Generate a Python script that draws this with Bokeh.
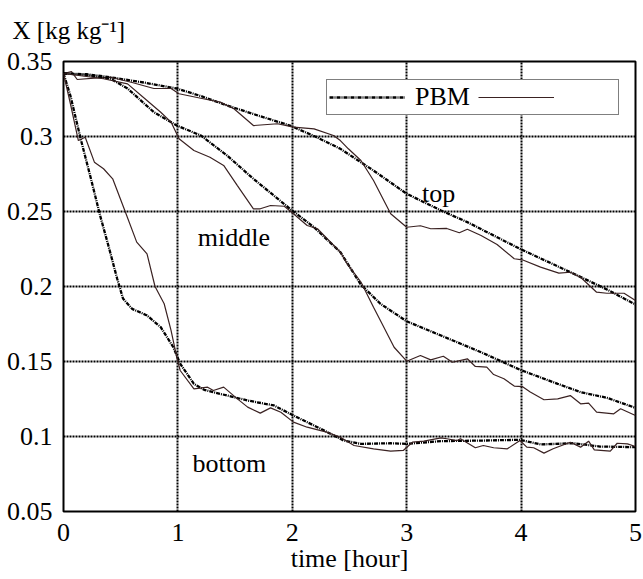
from bokeh.plotting import figure
from bokeh.models import (Label, Legend, LegendItem, FixedTicker,
                          NumeralTickFormatter, Range1d)
from bokeh.embed import file_html
from bokeh.resources import INLINE

# ---------------- data ----------------
x_ticks = [0, 1, 2, 3, 4, 5]
y_ticks = [0.05, 0.1, 0.15, 0.2, 0.25, 0.3, 0.35]

top_pbm_t = [0, 0.2, 0.41, 0.7, 0.99, 1.2, 1.43, 1.7, 1.98, 2.2, 2.42, 2.71,
             3.0, 3.3, 3.53, 3.99, 4.46, 4.75, 5.0]
top_pbm_x = [0.342, 0.3415, 0.3395, 0.336, 0.332, 0.327, 0.3207, 0.314, 0.3073,
             0.300, 0.2918, 0.2773, 0.2618, 0.2507, 0.2429, 0.2251, 0.2085,
             0.198, 0.188]

top_exp_t = [0, 0.07, 0.12, 0.27, 0.41, 0.6, 0.79, 0.94, 1.01, 1.2, 1.37, 1.49,
             1.66, 1.87, 2.01, 2.19, 2.36, 2.42, 2.49, 2.60, 2.71, 2.86, 3.0,
             3.12, 3.21, 3.35, 3.46, 3.53, 3.65, 3.79, 3.94, 4.01, 4.17, 4.33,
             4.43, 4.52, 4.66, 4.75, 4.90, 5.0]
top_exp_x = [0.342, 0.3433, 0.338, 0.3389, 0.3395, 0.336, 0.332, 0.332, 0.3285,
             0.3255, 0.3229, 0.3185, 0.3073, 0.3085, 0.3062, 0.3051, 0.3007,
             0.2973, 0.2918, 0.284, 0.2707, 0.2485, 0.2395, 0.2405, 0.2385,
             0.2387, 0.2358, 0.2382, 0.234, 0.228, 0.2185, 0.2178, 0.2129,
             0.2089, 0.2095, 0.2062, 0.1962, 0.1955, 0.1955, 0.1907]

mid_pbm_t = [0, 0.2, 0.41, 0.56, 0.79, 0.99, 1.2, 1.43, 1.66, 1.98, 2.19, 2.42,
             2.60, 2.77, 3.0, 3.3, 3.65, 3.99, 4.32, 4.52, 4.75, 5.0]
mid_pbm_x = [0.342, 0.341, 0.3385, 0.332, 0.3162, 0.3073, 0.3007, 0.2873,
             0.2718, 0.2518, 0.2395, 0.2229, 0.2012, 0.1885, 0.1768, 0.1673,
             0.1562, 0.1445, 0.1351, 0.1296, 0.1258, 0.1191]

mid_exp_t = [0, 0.15, 0.35, 0.56, 0.73, 0.85, 0.94, 1.01, 1.14, 1.28, 1.40,
             1.52, 1.66, 1.72, 1.81, 1.93, 2.01, 2.13, 2.22, 2.42, 2.48, 2.60,
             2.71, 2.77, 2.89, 3.0, 3.12, 3.21, 3.32, 3.40, 3.53, 3.60, 3.70,
             3.76, 3.85, 3.94, 4.01, 4.08, 4.20, 4.32, 4.43, 4.52, 4.59, 4.66,
             4.81, 4.87, 5.0]
mid_exp_x = [0.342, 0.3405, 0.3385, 0.3351, 0.324, 0.3162, 0.3096, 0.2985,
             0.2907, 0.2862, 0.2807, 0.2673, 0.2518, 0.2518, 0.254, 0.2535,
             0.2485, 0.2407, 0.2385, 0.2229, 0.2151, 0.203, 0.1862, 0.1773,
             0.1595, 0.1502, 0.154, 0.1511, 0.1535, 0.1495, 0.1518, 0.1467,
             0.1462, 0.1413, 0.1385, 0.1336, 0.1333, 0.1296, 0.1245, 0.1251,
             0.1273, 0.1218, 0.1222, 0.1162, 0.1151, 0.1185, 0.114]

bot_pbm_t = [0, 0.06, 0.15, 0.24, 0.32, 0.40, 0.47, 0.52, 0.60, 0.73, 0.85,
             0.96, 1.02, 1.14, 1.23, 1.43, 1.61, 1.84, 2.01, 2.25, 2.45, 2.60,
             2.86, 3.0, 3.30, 3.67, 3.99, 4.17, 4.46, 4.69, 5.0]
bot_pbm_x = [0.342, 0.3273, 0.2985, 0.2718, 0.2473, 0.2251, 0.205, 0.192,
             0.1851, 0.1807, 0.1729, 0.1595, 0.1485, 0.1351, 0.1311, 0.1273,
             0.124, 0.1207, 0.114, 0.1051, 0.0973, 0.0951, 0.0955, 0.0951,
             0.0969, 0.0973, 0.0978, 0.0947, 0.0955, 0.0933, 0.0929]

bot_exp_t = [0, 0.06, 0.13, 0.19, 0.27, 0.35, 0.43, 0.53, 0.64, 0.73, 0.80,
             0.88, 0.94, 0.99, 1.02, 1.14, 1.26, 1.31, 1.40, 1.52, 1.61, 1.72,
             1.81, 1.90, 2.01, 2.13, 2.30, 2.42, 2.54, 2.71, 2.86, 2.97, 3.05,
             3.15, 3.30, 3.35, 3.44, 3.47, 3.60, 3.67, 3.76, 3.88, 3.99, 4.05,
             4.11, 4.20, 4.28, 4.43, 4.52, 4.59, 4.64, 4.78, 4.84, 4.93, 5.0]
bot_exp_x = [0.342, 0.322, 0.2973, 0.2995, 0.2829, 0.2785, 0.2718, 0.2518,
             0.2296, 0.2218, 0.2, 0.1885, 0.1707, 0.1529, 0.144, 0.1318, 0.1329,
             0.1307, 0.1329, 0.1251, 0.1196, 0.1156, 0.1191, 0.1162, 0.1096,
             0.1062, 0.1029, 0.0995, 0.094, 0.0918, 0.0902, 0.0907, 0.0962,
             0.0969, 0.0991, 0.0985, 0.0973, 0.0985, 0.0925, 0.094, 0.0925,
             0.0918, 0.0973, 0.0929, 0.0925, 0.0889, 0.0918, 0.0962, 0.0929,
             0.0969, 0.0911, 0.0902, 0.0955, 0.0951, 0.0933]

curve_names = ["top", "middle", "bottom"]
name_t = [3.28, 1.49, 1.45]
name_x = [0.262, 0.2329, 0.0818]

y_title = "X [kg kg\u207b\u00b9]"

# ---------------- figure ----------------
FONT = "Liberation Serif"
p = figure(width=643, height=579, output_backend="svg", toolbar_location=None,
           x_range=Range1d(0, 5), y_range=Range1d(0.05, 0.35),
           min_border_left=63, min_border_right=8, min_border_top=61,
           min_border_bottom=68)
p.background_fill_color = "white"
p.border_fill_color = "white"
p.outline_line_color = "black"
p.outline_line_width = 2
p.outline_line_alpha = 1

# y-axis title, placed above the top-left corner of the frame
p.title.text = y_title
p.title.align = "left"
p.title.vertical_align = "top"
p.title.offset = -51
p.title.standoff = 31
p.title.text_font = FONT
p.title.text_font_size = "25px"
p.title.text_font_style = "normal"
p.title.text_color = "black"

for ax in (p.xaxis, p.yaxis):
    ax.axis_line_color = None
    ax.major_tick_line_color = None
    ax.minor_tick_line_color = None
    ax.major_label_text_font = FONT
    ax.major_label_text_font_size = "26px"
    ax.major_label_text_color = "black"
    ax.axis_label_text_font = FONT
    ax.axis_label_text_font_style = "normal"
    ax.axis_label_text_font_size = "26px"
    ax.axis_label_text_color = "black"

p.xaxis.ticker = FixedTicker(ticks=x_ticks)
p.yaxis.ticker = FixedTicker(ticks=y_ticks)
p.xaxis.formatter = NumeralTickFormatter(format="0")
p.yaxis.formatter = NumeralTickFormatter(format="0.[00]")
p.xaxis.major_label_standoff = 6
p.yaxis.major_label_standoff = 5
p.xaxis.axis_label = "time [hour]"
p.xaxis.axis_label_standoff = 0

for g in (p.xgrid, p.ygrid):
    g.grid_line_color = "black"
    g.grid_line_width = 2
    g.grid_line_dash = "2 1"
    g.grid_line_alpha = 1

PBM_DASH = "4 1 1 1"
EXP_COL = "#3a2222"

r_pbm_top = p.line(top_pbm_t, top_pbm_x, line_color="black", line_width=2.3,
                   line_dash=PBM_DASH)
r_exp_top = p.line(top_exp_t, top_exp_x, line_color=EXP_COL, line_width=1.2)
p.line(mid_pbm_t, mid_pbm_x, line_color="black", line_width=2.3,
       line_dash=PBM_DASH)
p.line(mid_exp_t, mid_exp_x, line_color=EXP_COL, line_width=1.2)
p.line(bot_pbm_t, bot_pbm_x, line_color="black", line_width=2.3,
       line_dash=PBM_DASH)
p.line(bot_exp_t, bot_exp_x, line_color=EXP_COL, line_width=1.2)

for name, t, xv in zip(curve_names, name_t, name_x):
    p.add_layout(Label(x=t, y=xv, text=name, text_font=FONT,
                       text_font_size="26px", text_align="center",
                       text_baseline="middle", text_color="black"))

legend = Legend(items=[LegendItem(label="PBM", renderers=[r_pbm_top]),
                       LegendItem(label=" ", renderers=[r_exp_top])],
                orientation="horizontal", location=(263, 396),
                glyph_width=76, glyph_height=20, label_standoff=10,
                spacing=8, padding=2, label_width=52,
                label_text_font=FONT, label_text_font_size="26px",
                label_text_color="black", border_line_color="black",
                border_line_width=1, background_fill_alpha=1,
                background_fill_color="white", margin=0)
p.add_layout(legend)

open("out.html", "w").write(file_html(p, INLINE))
